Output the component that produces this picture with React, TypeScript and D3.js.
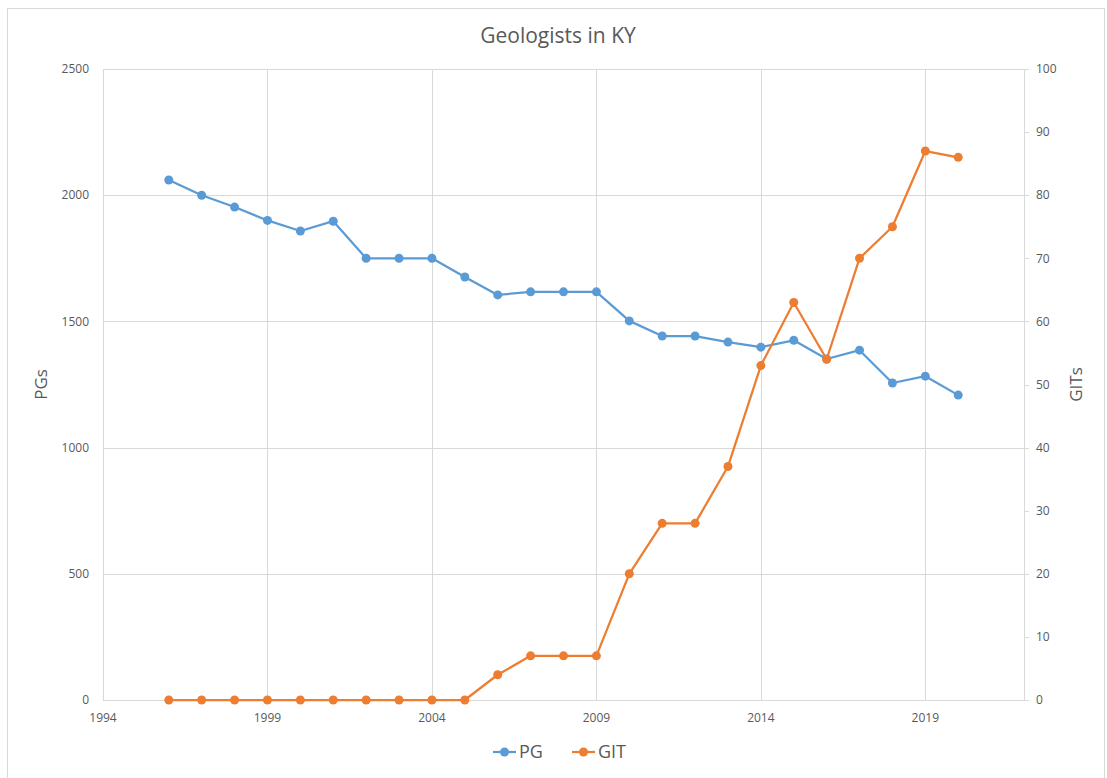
import React, { useEffect, useRef } from "react";
import * as d3 from "d3";

const years = [1996, 1997, 1998, 1999, 2000, 2001, 2002, 2003, 2004, 2005, 2006, 2007, 2008,
  2009, 2010, 2011, 2012, 2013, 2014, 2015, 2016, 2017, 2018, 2019, 2020];
const pgValues = [2060, 2000, 1953, 1900, 1858, 1897, 1750, 1750, 1750, 1676, 1605, 1617, 1617,
  1617, 1502, 1442, 1442, 1418, 1398, 1425, 1351, 1386, 1256, 1283, 1208];
const gitValues = [0, 0, 0, 0, 0, 0, 0, 0, 0, 0, 4, 7, 7, 7, 20, 28, 28, 37, 53, 63, 54, 70, 75, 87, 86];
const xTicks = [1994, 1999, 2004, 2009, 2014, 2019];
const leftTicks = [0, 500, 1000, 1500, 2000, 2500];
const rightTicks = [0, 10, 20, 30, 40, 50, 60, 70, 80, 90, 100];

const BLUE = "#5B9BD5";
const ORANGE = "#ED7D31";
const TEXT = "#595959";
const GRID = "#d9d9d9";
const FONT = "'Open Sans', sans-serif";

export default function App() {
  const ref = useRef<SVGSVGElement>(null);

  useEffect(() => {
    const W = 1107, H = 778;
    const margin = { top: 69, right: 83, bottom: 78, left: 103 };
    const w = W - margin.left - margin.right,
      h = H - margin.top - margin.bottom;

    const svg = d3.select(ref.current);
    svg.selectAll("*").remove();

    // chart area border
    svg.append("rect")
      .attr("x", 7.5).attr("y", 8.5)
      .attr("width", 1097).attr("height", 780)
      .attr("fill", "white").attr("stroke", GRID);

    const g = svg.append("g").attr("transform", `translate(${margin.left},${margin.top})`);

    const x = d3.scaleLinear().domain([1994, 2022]).range([0, w]);
    const yL = d3.scaleLinear().domain([0, 2500]).range([h, 0]);
    const yR = d3.scaleLinear().domain([0, 100]).range([h, 0]);

    // grid lines
    g.selectAll(".hgrid").data(leftTicks).join("line")
      .attr("x1", 0).attr("x2", w)
      .attr("y1", d => Math.round(yL(d)) + 0.5).attr("y2", d => Math.round(yL(d)) + 0.5)
      .attr("stroke", GRID);
    g.selectAll(".vgrid").data(xTicks).join("line")
      .attr("x1", d => Math.round(x(d)) + 0.5).attr("x2", d => Math.round(x(d)) + 0.5)
      .attr("y1", 0).attr("y2", h)
      .attr("stroke", GRID);

    // right axis line + ticks
    g.append("line")
      .attr("x1", w + 0.5).attr("x2", w + 0.5).attr("y1", 0).attr("y2", h)
      .attr("stroke", GRID);
    g.selectAll(".rtick").data(rightTicks).join("line")
      .attr("x1", w).attr("x2", w + 5)
      .attr("y1", d => Math.round(yR(d)) + 0.5).attr("y2", d => Math.round(yR(d)) + 0.5)
      .attr("stroke", GRID);

    // tick labels
    g.selectAll(".ltext").data(leftTicks).join("text")
      .attr("x", -14).attr("y", d => yL(d)).attr("dy", "0.35em")
      .attr("text-anchor", "end")
      .style("font-family", FONT).style("font-size", "12px").style("fill", TEXT)
      .text(d => d);
    g.selectAll(".rtext").data(rightTicks).join("text")
      .attr("x", w + 12).attr("y", d => yR(d)).attr("dy", "0.35em")
      .attr("text-anchor", "start")
      .style("font-family", FONT).style("font-size", "12px").style("fill", TEXT)
      .text(d => d);
    g.selectAll(".xtext").data(xTicks).join("text")
      .attr("x", d => x(d)).attr("y", h + 22)
      .attr("text-anchor", "middle")
      .style("font-family", FONT).style("font-size", "12px").style("fill", TEXT)
      .text(d => d);

    // series
    const pgData = years.map((yr, i) => ({ yr, v: pgValues[i] }));
    const gitData = years.map((yr, i) => ({ yr, v: gitValues[i] }));

    const pgLine = d3.line<{ yr: number; v: number }>().x(d => x(d.yr)).y(d => yL(d.v));
    const gitLine = d3.line<{ yr: number; v: number }>().x(d => x(d.yr)).y(d => yR(d.v));

    g.append("path").datum(pgData).attr("d", pgLine)
      .attr("fill", "none").attr("stroke", BLUE).attr("stroke-width", 2.25)
      .attr("stroke-linejoin", "round");
    g.selectAll(".pgdot").data(pgData).join("circle")
      .attr("cx", d => x(d.yr)).attr("cy", d => yL(d.v)).attr("r", 4.5)
      .attr("fill", BLUE);

    g.append("path").datum(gitData).attr("d", gitLine)
      .attr("fill", "none").attr("stroke", ORANGE).attr("stroke-width", 2.25)
      .attr("stroke-linejoin", "round");
    g.selectAll(".gitdot").data(gitData).join("circle")
      .attr("cx", d => x(d.yr)).attr("cy", d => yR(d.v)).attr("r", 4.5)
      .attr("fill", ORANGE);

    // titles
    svg.append("text")
      .attr("x", 558).attr("y", 43)
      .attr("text-anchor", "middle")
      .style("font-family", FONT).style("font-size", "21px").style("fill", TEXT)
      .text("Geologists in KY");

    svg.append("text")
      .attr("transform", `translate(47, ${margin.top + h / 2}) rotate(-90)`)
      .attr("text-anchor", "middle")
      .style("font-family", FONT).style("font-size", "17px").style("fill", TEXT)
      .text("PGs");
    svg.append("text")
      .attr("transform", `translate(1082, ${margin.top + h / 2}) rotate(-90)`)
      .attr("text-anchor", "middle")
      .style("font-family", FONT).style("font-size", "17px").style("fill", TEXT)
      .text("GITs");

    // legend
    const legend = [
      { name: "PG", color: BLUE, x: 493 },
      { name: "GIT", color: ORANGE, x: 572 },
    ];
    const lg = svg.selectAll(".leg").data(legend).join("g")
      .attr("transform", d => `translate(${d.x}, 752)`);
    lg.append("line").attr("x1", 0).attr("x2", 23).attr("y1", 0).attr("y2", 0)
      .attr("stroke", d => d.color).attr("stroke-width", 2.25);
    lg.append("circle").attr("cx", 11.5).attr("cy", 0).attr("r", 4.5)
      .attr("fill", d => d.color);
    lg.append("text").attr("x", 26).attr("y", 0).attr("dy", "0.35em")
      .style("font-family", FONT).style("font-size", "18px").style("fill", TEXT)
      .text(d => d.name);
  }, []);

  return (
    <svg ref={ref} width={1107} height={778}
      style={{ position: "absolute", left: 0, top: 0, background: "white" }} />
  );
}
